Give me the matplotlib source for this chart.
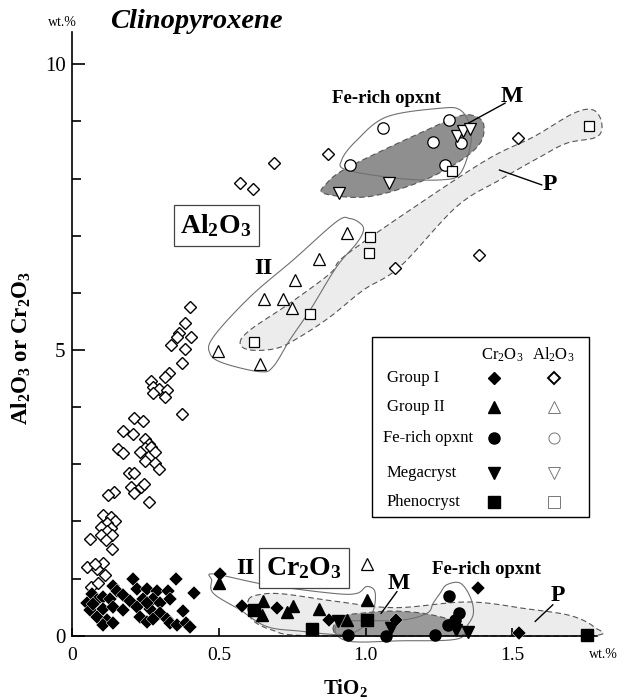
import numpy as np
import matplotlib
matplotlib.use("Agg")
import matplotlib.pyplot as plt
from matplotlib.patches import Polygon, Rectangle
from matplotlib.ticker import MultipleLocator

plt.rcParams['font.family'] = 'Liberation Serif'
plt.rcParams['mathtext.fontset'] = 'custom'
plt.rcParams['mathtext.rm'] = 'Liberation Serif'
plt.rcParams['mathtext.bf'] = 'Liberation Serif:bold'
plt.rcParams['mathtext.it'] = 'Liberation Serif:italic'

# ---- data (TiO2 wt.%, oxide wt.%) ----
g1_al_x = [0.401, 0.383, 0.362, 0.356, 0.403, 0.335, 0.383, 0.374, 0.330, 0.315, 0.269, 0.276,
           0.294, 0.324, 0.276, 0.315, 0.374, 0.210, 0.242, 0.173, 0.208, 0.248, 0.262, 0.247,
           0.269, 0.230, 0.283, 0.156, 0.173, 0.246, 0.280, 0.296, 0.194, 0.210, 0.201, 0.233,
           0.244, 0.210, 0.142, 0.121, 0.260, 0.103, 0.130, 0.144, 0.117, 0.096, 0.130, 0.119,
           0.060, 0.098, 0.135, 0.114, 0.135, 0.050, 0.103, 0.082, 0.110, 0.064, 0.087, 0.078,
           0.572, 0.615, 0.689, 0.873, 1.519, 1.386, 1.102]
g1_al_y = [5.76, 5.47, 5.30, 5.23, 5.22, 5.09, 5.02, 4.78, 4.60, 4.53, 4.46, 4.35,
           4.32, 4.30, 4.24, 4.18, 3.88, 3.81, 3.75, 3.58, 3.53, 3.45, 3.35, 3.28,
           3.31, 3.21, 3.21, 3.26, 3.20, 3.06, 3.02, 2.92, 2.84, 2.84, 2.60, 2.61,
           2.65, 2.49, 2.51, 2.46, 2.34, 2.11, 2.07, 2.01, 1.98, 1.90, 1.88, 1.83,
           1.70, 1.76, 1.76, 1.67, 1.52, 1.21, 1.27, 1.16, 1.07, 0.86, 0.93, 1.25,
           7.93, 7.82, 8.28, 8.43, 8.71, 6.66, 6.43]

g1_cr_x = [0.137, 0.205, 0.353, 0.415, 0.067, 0.151, 0.048, 0.082, 0.105, 0.128, 0.173, 0.219,
           0.255, 0.289, 0.326, 0.196, 0.242, 0.274, 0.299, 0.333, 0.060, 0.105, 0.139, 0.173,
           0.219, 0.265, 0.299, 0.082, 0.117, 0.105, 0.139, 0.230, 0.255, 0.276, 0.322, 0.333,
           0.356, 0.378, 0.387, 0.401, 0.253, 0.071,
           0.503, 0.577, 0.697, 0.874, 1.104, 1.385, 1.524]
g1_cr_y = [0.87, 1.00, 0.99, 0.75, 0.73, 0.79, 0.57, 0.62, 0.68, 0.64, 0.71, 0.82,
           0.81, 0.78, 0.78, 0.61, 0.65, 0.65, 0.57, 0.64, 0.45, 0.46, 0.51, 0.45,
           0.51, 0.47, 0.40, 0.32, 0.27, 0.18, 0.22, 0.33, 0.24, 0.29, 0.30, 0.22,
           0.18, 0.43, 0.22, 0.16, 0.57, 0.55,
           1.08, 0.52, 0.48, 0.28, 0.27, 0.83, 0.04]

g2_al_x = [0.936, 0.842, 0.760, 0.654, 0.717, 0.749, 0.497, 0.640, 1.004]
g2_al_y = [7.04, 6.59, 6.22, 5.90, 5.90, 5.73, 4.99, 4.75, 1.25]
g2_cr_x = [0.501, 0.651, 0.646, 0.731, 0.754, 0.840, 0.936, 1.004]
g2_cr_y = [0.93, 0.60, 0.36, 0.42, 0.52, 0.46, 0.27, 0.62]

fe_al_x = [1.061, 0.947, 1.231, 1.286, 1.325, 1.270]
fe_al_y = [8.89, 8.24, 8.64, 9.03, 8.63, 8.24]
fe_cr_x = [0.941, 1.070, 1.236, 1.286, 1.320, 1.305, 1.283]
fe_cr_y = [0.01, 0.00, 0.01, 0.69, 0.40, 0.27, 0.19]

mega_al_x = [0.909, 1.081, 1.311, 1.334, 1.357]
mega_al_y = [7.75, 7.92, 8.75, 8.84, 8.86]
mega_cr_x = [0.907, 1.086, 1.307, 1.351]
mega_cr_y = [0.25, 0.13, 0.10, 0.07]

pheno_al_x = [1.015, 1.011, 0.811, 0.619, 1.294, 1.764]
pheno_al_y = [6.97, 6.70, 5.63, 5.14, 8.13, 8.92]
pheno_cr_x = [0.618, 0.816, 1.004, 1.757]
pheno_cr_y = [0.45, 0.11, 0.27, 0.01]

# ---- field outlines (data coords) ----
m_al_field = [(0.858, 7.74), (1.004, 7.68), (1.175, 7.92), (1.311, 8.27), (1.391, 8.62),
              (1.402, 8.97), (1.362, 9.11), (1.311, 9.08), (1.209, 8.85), (1.061, 8.50),
              (0.924, 8.15), (0.868, 7.92)]
fe_al_field = [(0.970, 8.67), (1.072, 9.08), (1.254, 9.23), (1.323, 9.20), (1.357, 8.91),
               (1.357, 8.56), (1.323, 8.09), (1.266, 7.98), (1.118, 8.00), (0.936, 8.15),
               (0.919, 8.33)]
p_al_field = [(0.572, 5.12), (0.606, 5.35), (0.742, 5.82), (0.879, 6.34), (0.93, 6.65),
              (1.152, 7.45), (1.414, 8.33), (1.573, 8.73), (1.709, 9.14), (1.777, 9.20),
              (1.806, 8.97), (1.789, 8.73), (1.687, 8.62), (1.596, 8.38), (1.459, 7.98),
              (1.311, 7.51), (1.118, 6.46), (0.993, 6.05), (0.879, 5.58), (0.776, 5.23),
              (0.697, 5.03), (0.606, 5.00)]
ii_al_field = [(0.981, 7.22), (0.947, 7.30), (0.902, 7.25), (0.754, 6.58), (0.606, 5.93),
               (0.481, 5.23), (0.469, 4.94), (0.515, 4.77), (0.640, 4.62), (0.685, 4.71),
               (0.742, 5.18), (0.811, 5.70), (0.902, 6.46), (0.970, 6.87), (0.993, 7.10)]
p_cr_field = [(0.60, 0.62), (0.64, 0.72), (0.72, 0.73), (0.90, 0.60), (1.10, 0.49),
              (1.35, 0.59), (1.55, 0.47), (1.70, 0.35), (1.78, 0.15), (1.77, 0.0),
              (1.30, 0.0), (0.80, 0.0), (0.68, 0.10), (0.61, 0.30)]
m_cr_field = [(0.89, 0.10), (0.92, 0.33), (1.00, 0.40), (1.10, 0.43), (1.21, 0.38),
              (1.31, 0.24), (1.35, 0.06), (1.28, 0.0), (0.95, 0.0)]
ii_cr_field = [(0.481, 1.08), (0.663, 0.89), (0.890, 0.74), (0.970, 0.74), (1.004, 0.86),
               (1.032, 0.77), (1.027, 0.45), (0.993, 0.16), (0.924, 0.02), (0.776, 0.08),
               (0.663, 0.16), (0.572, 0.45), (0.481, 0.74), (0.475, 0.97)]
fe_cr_field = [(1.254, 0.74), (1.277, 0.89), (1.323, 0.92), (1.357, 0.68), (1.368, 0.39),
               (1.345, 0.16), (1.311, -0.06), (1.118, -0.09), (0.947, -0.10), (0.896, 0.08),
               (0.936, 0.25), (1.118, 0.27), (1.209, 0.39), (1.231, 0.57)]


def smooth(pts, n=16):
    p = np.array(pts, dtype=float)
    k = len(p)
    t = np.linspace(0, 1, n, endpoint=False)[:, None]
    out = []
    for i in range(k):
        p0, p1, p2, p3 = p[i - 1], p[i], p[(i + 1) % k], p[(i + 2) % k]
        out.append(0.5 * (2 * p1 + (-p0 + p2) * t + (2 * p0 - 5 * p1 + 4 * p2 - p3) * t ** 2
                          + (-p0 + 3 * p1 - 3 * p2 + p3) * t ** 3))
    return np.vstack(out)


fig = plt.figure(figsize=(6.32, 6.99), dpi=100)
ax = fig.add_axes([0.1147, 0.0906, 0.830, 0.864])
ax.set_xlim(0, 1.79)
ax.set_ylim(0, 10.57)

# fields
for pts, fc in [(p_al_field, '#ececec'), (p_cr_field, '#ececec'),
                (m_al_field, '#8f8f8f'), (m_cr_field, '#9a9a9a')]:
    ax.add_patch(Polygon(smooth(pts), closed=True, fc=fc, ec='#555555', lw=0.8,
                         ls=(0, (5, 3)), clip_on=False, zorder=1))
for pts in [fe_al_field, ii_al_field, ii_cr_field, fe_cr_field]:
    ax.add_patch(Polygon(smooth(pts), closed=True, fill=False, ec='#707070', lw=0.8,
                         clip_on=False, zorder=2))

mk = dict(linestyle='none', clip_on=False, zorder=4)
ax.plot(g1_al_x, g1_al_y, 'D', ms=6.3, mfc='white', mec='black', mew=1.0, **mk)
ax.plot(g2_al_x, g2_al_y, '^', ms=8, mfc='white', mec='black', mew=0.9, **mk)
ax.plot(fe_al_x, fe_al_y, 'o', ms=8.2, mfc='white', mec='black', mew=0.9, **mk)
ax.plot(mega_al_x, mega_al_y, 'v', ms=8, mfc='white', mec='black', mew=0.9, **mk)
ax.plot(pheno_al_x, pheno_al_y, 's', ms=7.5, mfc='white', mec='black', mew=0.9, **mk)

ax.plot(g1_cr_x, g1_cr_y, 'D', ms=7.3, mfc='black', mec='white', mew=0.3, **mk)
ax.plot(g2_cr_x, g2_cr_y, '^', ms=8, mfc='black', mec='black', **mk)
ax.plot(fe_cr_x, fe_cr_y, 'o', ms=8, mfc='black', mec='black', **mk)
ax.plot(mega_cr_x, mega_cr_y, 'v', ms=8, mfc='black', mec='black', **mk)
ax.plot(pheno_cr_x, pheno_cr_y, 's', ms=8, mfc='black', mec='black', **mk)

# axes styling
for s in ['top', 'right']:
    ax.spines[s].set_visible(False)
for s in ['left', 'bottom']:
    ax.spines[s].set_linewidth(1.2)
ax.set_yticks([0, 5, 10])
ax.yaxis.set_minor_locator(MultipleLocator(1))
ax.set_xticks([0, 0.5, 1.0, 1.5])
ax.set_xticklabels(['0', '0.5', '1.0', '1.5'])
ax.tick_params(axis='y', which='major', direction='in', length=9.5, width=1.2,
               labelsize=15, pad=5)
ax.tick_params(axis='y', which='minor', direction='in', length=6.5, width=1.2)
ax.tick_params(axis='x', which='major', direction='in', length=6, width=1.2,
               labelsize=14, pad=8)

ax.set_ylabel(r'Al$_\mathbf{2}$O$_\mathbf{3}$ or Cr$_\mathbf{2}$O$_\mathbf{3}$',
              fontsize=16.5, fontweight='bold')
ax.yaxis.set_label_coords(-0.076, 0.476)
ax.set_xlabel(r'TiO$_\mathbf{2}$', fontsize=15, fontweight='bold', va='center')
ax.xaxis.set_label_coords(0.52, -0.086)

fig.text(62 / 632, 1 - 22 / 699, 'wt.%', fontsize=10, ha='center', va='center')
fig.text(603 / 632, 1 - 655 / 699, 'wt.%', fontsize=10, ha='center', va='center')
fig.text(110 / 632, 1 - 22 / 699, 'Clinopyroxene', fontsize=20.5, fontweight='bold',
         style='italic', ha='left', va='center')

# annotations
box = dict(boxstyle='square,pad=0.25', fc='white', ec='#444444', lw=0.9)
ax.text(0.49, 7.18, r'Al$_\mathbf{2}$O$_\mathbf{3}$', fontsize=20, fontweight='bold',
        ha='center', va='center', bbox=box, zorder=6)
ax.text(0.79, 1.18, r'Cr$_\mathbf{2}$O$_\mathbf{3}$', fontsize=20, fontweight='bold',
        ha='center', va='center', bbox=box, zorder=6)
bold = dict(fontweight='bold', ha='center', va='center', zorder=6)
ax.text(1.07, 9.41, 'Fe-rich opxnt', fontsize=13.5, **bold)
ax.text(1.414, 1.15, 'Fe-rich opxnt', fontsize=13.5, **bold)
ax.text(1.50, 9.43, 'M', fontsize=17, **bold)
ax.text(1.112, 0.92, 'M', fontsize=17, **bold)
ax.text(1.63, 7.90, 'P', fontsize=17, **bold)
ax.text(1.655, 0.71, 'P', fontsize=17, **bold)
ax.text(0.65, 6.43, 'II', fontsize=17, **bold)
ax.text(0.589, 1.18, 'II', fontsize=17, **bold)
ax.plot([1.476, 1.351], [9.32, 8.97], color='black', lw=1.0, zorder=6)
ax.plot([1.601, 1.457], [7.89, 8.15], color='black', lw=1.0, zorder=6)
ax.plot([1.107, 1.053], [0.77, 0.39], color='black', lw=1.0, zorder=6)
ax.plot([1.639, 1.579], [0.54, 0.25], color='black', lw=1.0, zorder=6)

# legend (axes fraction)
tr = ax.transAxes
ax.add_patch(Rectangle((0.571, 0.1965), 0.414, 0.298, transform=tr, fc='white',
                       ec='black', lw=1.0, zorder=7))
ax.text(0.819, 0.465, r'Cr$_2$O$_3$', transform=tr, fontsize=12, ha='center',
        va='center', zorder=8)
ax.text(0.916, 0.465, r'Al$_2$O$_3$', transform=tr, fontsize=12, ha='center',
        va='center', zorder=8)
leg_names = ['Group I', 'Group II', 'Fe-rich opxnt', 'Megacryst', 'Phenocryst']
leg_marks = ['D', '^', 'o', 'v', 's']
leg_rows = [0.426, 0.379, 0.327, 0.269, 0.222]
leg_x = [0.599, 0.599, 0.591, 0.599, 0.599]
for name, m, ry, lx in zip(leg_names, leg_marks, leg_rows, leg_x):
    ax.text(lx, ry, name, transform=tr, fontsize=12, ha='left', va='center', zorder=8)
    ax.plot([0.804], [ry], m, transform=tr, ms=6.5 if m == 'D' else 8, mfc='black',
            mec='black', clip_on=False, zorder=8)
    ax.plot([0.917], [ry], m, transform=tr, ms=6 if m == 'D' else 8, mfc='white',
            mec='black' if m == 'D' else '#777777', mew=1.4 if m == 'D' else 0.7,
            clip_on=False, zorder=8)

fig.savefig('out.png', dpi=100)
